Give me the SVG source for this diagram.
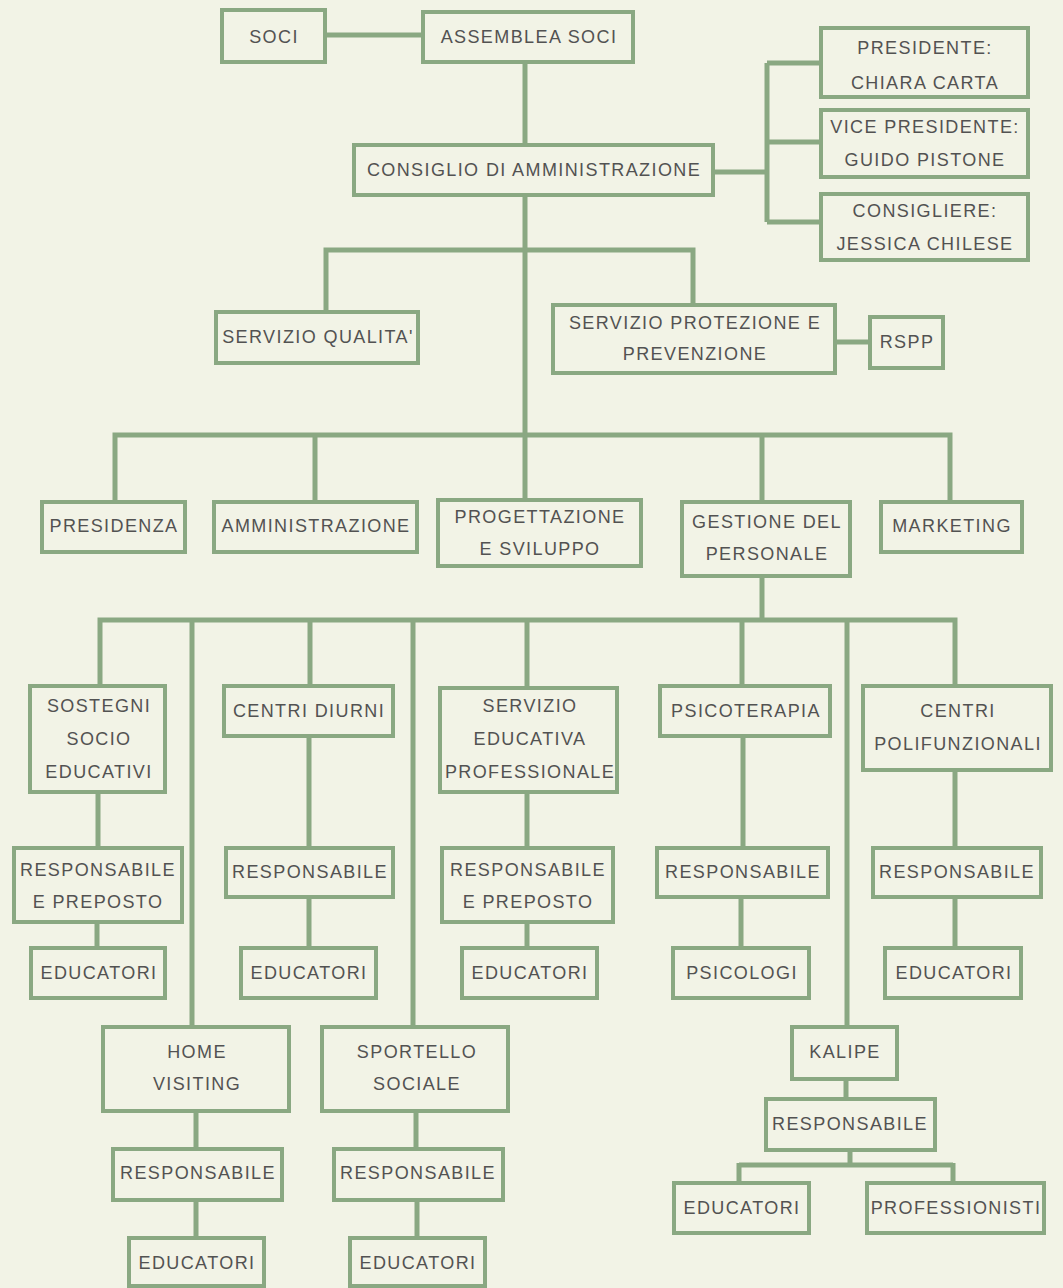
<svg xmlns="http://www.w3.org/2000/svg" width="1063" height="1288" viewBox="0 0 1063 1288">
<style>
.bg{fill:#f2f3e6}
.box{fill:#f2f3e6;stroke:#8aa882;stroke-width:4}
.conn{fill:none;stroke:#8aa882;stroke-width:5}
text{font-family:"Liberation Sans",Arial,sans-serif;font-size:18px;fill:#525252;text-anchor:middle;dominant-baseline:central;letter-spacing:1.4px}
</style>
<rect class="bg" x="0" y="0" width="1063" height="1288"/>
<g id="connectors">
<path class="conn" d="M325 35 H423"/>
<path class="conn" d="M525 62 V145"/>
<path class="conn" d="M713 172 H767 M767 63 V222 M767 63 H821 M767 142 H821 M767 222 H821"/>
<path class="conn" d="M525 195 V435"/>
<path class="conn" d="M326 312 V250 H693 V305"/>
<path class="conn" d="M835 342 H870"/>
<path class="conn" d="M115 502 V435 H950 V502 M315 435 V502 M525 435 V500 M762 435 V502"/>
<path class="conn" d="M762 576 V620"/>
<path class="conn" d="M100 686 V620 H955 V686 M192 620 V1027 M310 620 V686 M413 620 V1027 M527 620 V688 M742 620 V686 M847 620 V1027"/>
<path class="conn" d="M98 792 V848 M309 736 V848 M527 792 V848 M743 736 V848 M955 770 V848"/>
<path class="conn" d="M97 922 V948 M309 897 V948 M527 922 V948 M741 897 V948 M955 897 V948"/>
<path class="conn" d="M196 1111 V1149 M196 1200 V1238 M416 1111 V1149 M417 1200 V1238"/>
<path class="conn" d="M846 1079 V1099 M850 1150 V1165 M739 1165 H953 M739 1163 V1183 M953 1163 V1183"/>
</g>
<g id="soci"><rect class="box" x="222" y="10" width="103" height="52"/><text x="274" y="37">SOCI</text></g>
<g id="assemblea"><rect class="box" x="423" y="12" width="210" height="50"/><text x="529" y="37">ASSEMBLEA SOCI</text></g>
<g id="consiglio"><rect class="box" x="354" y="145" width="359" height="50"/><text x="534" y="170">CONSIGLIO DI AMMINISTRAZIONE</text></g>
<g id="presidente"><rect class="box" x="821" y="28" width="207" height="69"/><text x="925" y="48">PRESIDENTE:</text><text x="925" y="83">CHIARA CARTA</text></g>
<g id="vicepresidente"><rect class="box" x="821" y="110" width="207" height="67"/><text x="925" y="127">VICE PRESIDENTE:</text><text x="925" y="160">GUIDO PISTONE</text></g>
<g id="consigliere"><rect class="box" x="821" y="194" width="207" height="66"/><text x="925" y="211">CONSIGLIERE:</text><text x="925" y="244">JESSICA CHILESE</text></g>
<g id="qualita"><rect class="box" x="216" y="312" width="202" height="51"/><text x="318" y="337">SERVIZIO QUALITA'</text></g>
<g id="protezione"><rect class="box" x="553" y="305" width="282" height="68"/><text x="695" y="323">SERVIZIO PROTEZIONE E</text><text x="695" y="354">PREVENZIONE</text></g>
<g id="rspp"><rect class="box" x="870" y="317" width="73" height="51"/><text x="907" y="342">RSPP</text></g>
<g id="presidenza"><rect class="box" x="42" y="502" width="143" height="50"/><text x="114" y="526">PRESIDENZA</text></g>
<g id="amministrazione"><rect class="box" x="214" y="502" width="203" height="50"/><text x="316" y="526">AMMINISTRAZIONE</text></g>
<g id="progettazione"><rect class="box" x="438" y="500" width="203" height="66"/><text x="540" y="517">PROGETTAZIONE</text><text x="540" y="549">E SVILUPPO</text></g>
<g id="gestione"><rect class="box" x="682" y="502" width="168" height="74"/><text x="767" y="522">GESTIONE DEL</text><text x="767" y="554">PERSONALE</text></g>
<g id="marketing"><rect class="box" x="881" y="502" width="141" height="50"/><text x="952" y="526">MARKETING</text></g>
<g id="sostegni"><rect class="box" x="30" y="686" width="135" height="106"/><text x="99" y="706">SOSTEGNI</text><text x="99" y="739">SOCIO</text><text x="99" y="772">EDUCATIVI</text></g>
<g id="centridiurni"><rect class="box" x="224" y="686" width="169" height="50"/><text x="309" y="711">CENTRI DIURNI</text></g>
<g id="servizioeducativa"><rect class="box" x="440" y="688" width="177" height="104"/><text x="530" y="706">SERVIZIO</text><text x="530" y="739">EDUCATIVA</text><text x="530" y="772">PROFESSIONALE</text></g>
<g id="psicoterapia"><rect class="box" x="660" y="686" width="170" height="50"/><text x="746" y="711">PSICOTERAPIA</text></g>
<g id="centripolifunzionali"><rect class="box" x="863" y="686" width="188" height="84"/><text x="958" y="711">CENTRI</text><text x="958" y="744">POLIFUNZIONALI</text></g>
<g id="resp-sostegni"><rect class="box" x="14" y="848" width="168" height="74"/><text x="98" y="870">RESPONSABILE</text><text x="98" y="902">E PREPOSTO</text></g>
<g id="edu-sostegni"><rect class="box" x="31" y="948" width="134" height="50"/><text x="99" y="973">EDUCATORI</text></g>
<g id="resp-centridiurni"><rect class="box" x="226" y="848" width="167" height="49"/><text x="310" y="872">RESPONSABILE</text></g>
<g id="edu-centridiurni"><rect class="box" x="241" y="948" width="135" height="50"/><text x="309" y="973">EDUCATORI</text></g>
<g id="resp-servizioeducativa"><rect class="box" x="442" y="848" width="171" height="74"/><text x="528" y="870">RESPONSABILE</text><text x="528" y="902">E PREPOSTO</text></g>
<g id="edu-servizioeducativa"><rect class="box" x="462" y="948" width="135" height="50"/><text x="530" y="973">EDUCATORI</text></g>
<g id="resp-psicoterapia"><rect class="box" x="657" y="848" width="171" height="49"/><text x="743" y="872">RESPONSABILE</text></g>
<g id="psicologi"><rect class="box" x="673" y="948" width="136" height="50"/><text x="742" y="973">PSICOLOGI</text></g>
<g id="resp-centripolifunzionali"><rect class="box" x="873" y="848" width="168" height="49"/><text x="957" y="872">RESPONSABILE</text></g>
<g id="edu-centripolifunzionali"><rect class="box" x="885" y="948" width="136" height="50"/><text x="954" y="973">EDUCATORI</text></g>
<g id="homevisiting"><rect class="box" x="103" y="1027" width="186" height="84"/><text x="197" y="1052">HOME</text><text x="197" y="1084">VISITING</text></g>
<g id="resp-homevisiting"><rect class="box" x="113" y="1149" width="169" height="51"/><text x="198" y="1173">RESPONSABILE</text></g>
<g id="edu-homevisiting"><rect class="box" x="129" y="1238" width="135" height="48"/><text x="197" y="1263">EDUCATORI</text></g>
<g id="sportello"><rect class="box" x="322" y="1027" width="186" height="84"/><text x="417" y="1052">SPORTELLO</text><text x="417" y="1084">SOCIALE</text></g>
<g id="resp-sportello"><rect class="box" x="334" y="1149" width="169" height="51"/><text x="418" y="1173">RESPONSABILE</text></g>
<g id="edu-sportello"><rect class="box" x="350" y="1238" width="135" height="48"/><text x="418" y="1263">EDUCATORI</text></g>
<g id="kalipe"><rect class="box" x="792" y="1027" width="105" height="52"/><text x="845" y="1052">KALIPE</text></g>
<g id="resp-kalipe"><rect class="box" x="766" y="1099" width="169" height="51"/><text x="850" y="1124">RESPONSABILE</text></g>
<g id="edu-kalipe"><rect class="box" x="674" y="1183" width="135" height="50"/><text x="742" y="1208">EDUCATORI</text></g>
<g id="professionisti"><rect class="box" x="867" y="1183" width="177" height="50"/><text x="956" y="1208">PROFESSIONISTI</text></g>
</svg>
